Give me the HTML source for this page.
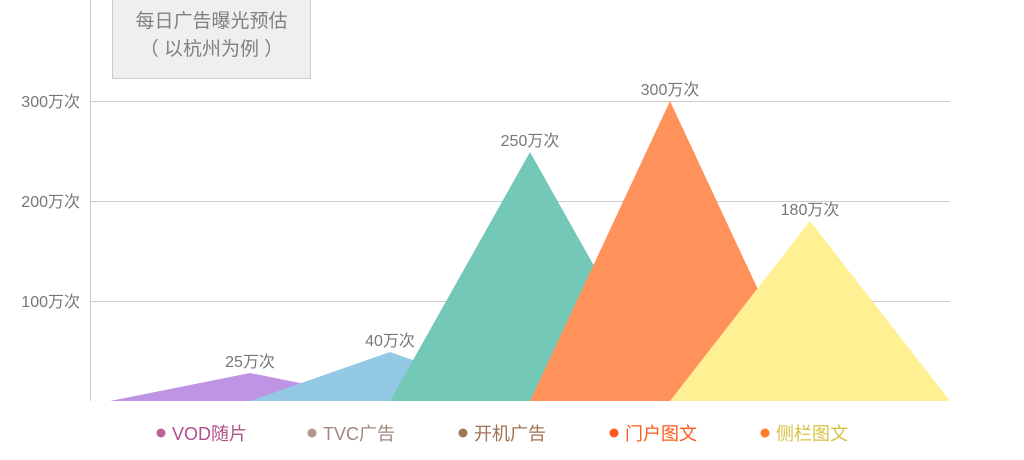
<!DOCTYPE html>
<html><head><meta charset="utf-8"><style>
body{margin:0;background:#fff;width:1024px;height:460px;overflow:hidden;font-family:"Liberation Sans","Noto Sans CJK SC",sans-serif}
#title{position:absolute;left:112px;top:0;width:199px;height:79px;background:#efefef;border:1px solid #ccc;border-top:none;color:#808080;font-size:19px;text-align:center;line-height:28px;padding-top:8px;box-sizing:border-box}
</style></head><body>
<svg id="chart" width="1024" height="460" style="position:absolute;left:0;top:0"></svg>
<div id="title">每日广告曝光预估<br>（ 以杭州为例 ）</div>
<script>
const categories=["VOD随片","TVC广告","开机广告","门户图文","侧栏图文"];
const values=[28,49,249,300,180];
const labels=["25万次","40万次","250万次","300万次","180万次"];
const ticks=[100,200,300];
const fills=["#bf94e4","#93c9e4","#74c8b8","#ff915b","#fff093"];
const dotColors=["#c0609a","#b09890","#a07850","#ff5a1a","#ff7a2a"];
const textColors=["#b0508a","#a08880","#a07050","#ff5a1a","#d8c040"];
const NS="http://www.w3.org/2000/svg";
const svg=document.getElementById('chart');
const y=v=>401-v*1.0;
const x=i=>250+140*i;
function mk(t,a){const e=document.createElementNS(NS,t);for(const k in a)e.setAttribute(k,a[k]);svg.appendChild(e);return e;}
ticks.forEach(t=>{
const g=mk('line',{x1:90,x2:950,y1:y(t)+0.5,y2:y(t)+0.5,stroke:'#ccc','stroke-width':1});


const l=mk('text',{x:80,y:y(t)+6,'text-anchor':'end','font-size':16,fill:'#777'});
l.textContent=t+'万次';


});
const ax=mk('line',{x1:90.5,x2:90.5,y1:0,y2:401,stroke:'#ccc'});


values.forEach((v,i)=>{
const p=mk('polygon',{points:`${x(i)-140},401 ${x(i)},${y(v)} ${x(i)+140},401`,fill:fills[i]});


});
values.forEach((v,i)=>{
const t=mk('text',{x:x(i),y:y(v)-6,'text-anchor':'middle','font-size':16,fill:'#777'});
t.textContent=labels[i];


});
categories.forEach((c,i)=>{
const cx=161+151*i;
const d=mk('circle',{cx:cx,cy:433,r:4.5,fill:dotColors[i]});


const t=mk('text',{x:cx+11,y:440,'font-size':18,fill:textColors[i]});
t.textContent=c;


});
</script>
</body></html>
